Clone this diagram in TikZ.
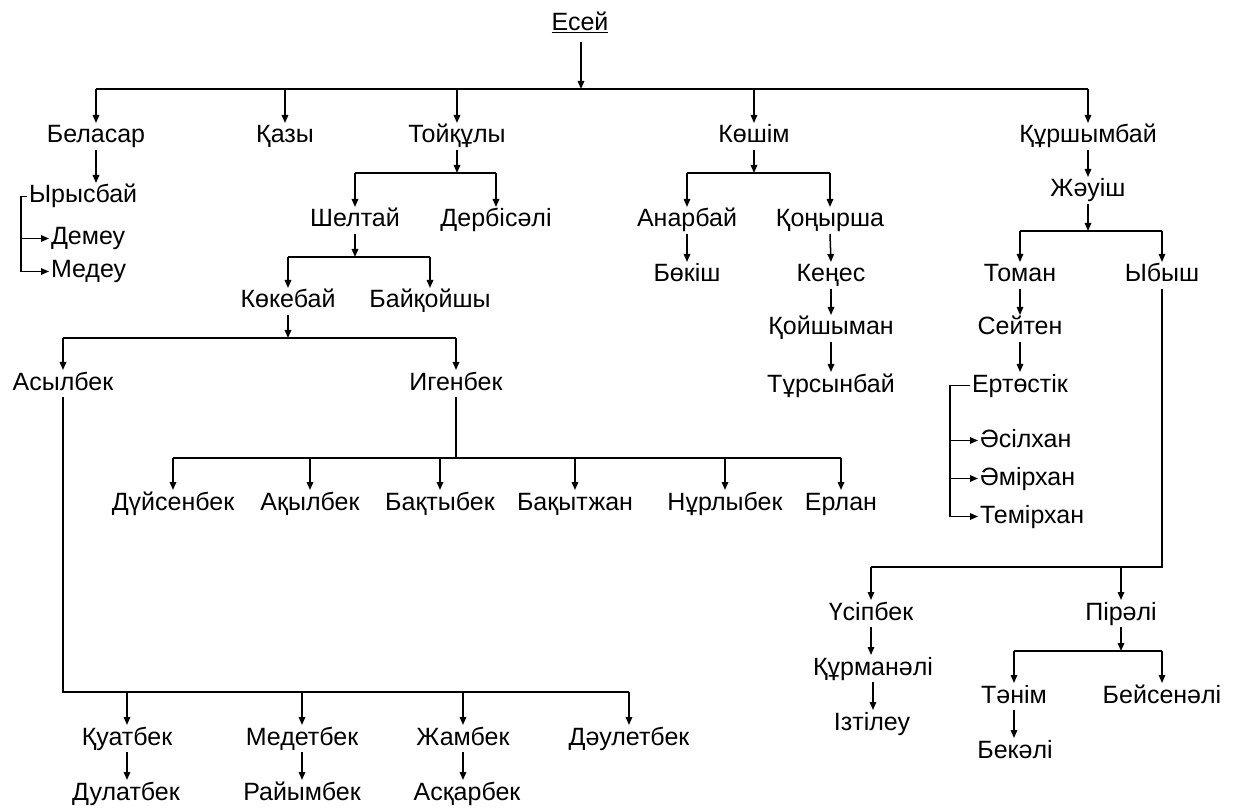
\documentclass[tikz,border=0pt]{standalone}
\usepackage{fontspec}
\setmainfont{Liberation Sans}
\usetikzlibrary{arrows.meta,calc}
\tikzset{
  nm/.style={inner sep=2pt, outer sep=0pt, text height=18pt, text depth=5pt, anchor=base, font=\fontsize{25}{30}\selectfont},
  nw/.style={nm, anchor=base west},
  ln/.style={line width=1.5pt},
  ar/.style={ln, -{Triangle[length=8pt,width=6.5pt]}},
}
\begin{document}
\begin{tikzpicture}[x=1pt,y=-1pt]
\useasboundingbox (0,0) rectangle (1240,810);
% nodes
\node[nm] (esei) at (580,31) {\underline{Есей}};
\node[nm] (bel) at (96,143) {Беласар};
\node[nm] (kaz) at (285,143) {Қазы};
\node[nm] (toi) at (457,143) {Тойқұлы};
\node[nm] (kos) at (754,143) {Көшім};
\node[nm] (kur) at (1088,143) {Құршымбай};
\node[nw] (ysb) at (27,203) {Ырысбай};
\node[nw] (dem) at (49,245) {Демеу};
\node[nw] (med) at (49,278) {Медеу};
\node[nm] (shel) at (355,227) {Шелтай};
\node[nm] (derb) at (496,227) {Дербісәлі};
\node[nm] (anar) at (687,227) {Анарбай};
\node[nm] (kon) at (830,227) {Қоңырша};
\node[nm] (zhau) at (1088,197) {Жәуіш};
\node[nm] (bok) at (687,282) {Бөкіш};
\node[nm] (ken) at (831,282) {Кеңес};
\node[nm] (toman) at (1020,282) {Томан};
\node[nm] (ybysh) at (1162,282) {Ыбыш};
\node[nm] (kok) at (288,308) {Көкебай};
\node[nm] (baik) at (430,308) {Байқойшы};
\node[nm] (koish) at (831,335) {Қойшыман};
\node[nm] (seit) at (1020,335) {Сейтен};
\node[nm] (asyl) at (63,390) {Асылбек};
\node[nm] (igen) at (456,390) {Игенбек};
\node[nm] (turs) at (831,392) {Тұрсынбай};
\node[nw] (ert) at (970,392) {Ертөстік};
\node[nw] (asil) at (978,447) {Әсілхан};
\node[nw] (amir) at (978,485) {Әмірхан};
\node[nw] (temir) at (978,523) {Темірхан};
\node[nm] (duis) at (173,510) {Дүйсенбек};
\node[nm] (akyl) at (310,510) {Ақылбек};
\node[nm] (bakty) at (440,510) {Бақтыбек};
\node[nm] (bakyt) at (575,510) {Бақытжан};
\node[nm] (nurly) at (725,510) {Нұрлыбек};
\node[nm] (erlan) at (841,510) {Ерлан};
\node[nm] (usip) at (871,620) {Үсіпбек};
\node[nm] (pir) at (1121,620) {Пірәлі};
\node[nm] (kurm) at (873,675) {Құрманәлі};
\node[nm] (izt) at (872,730) {Ізтілеу};
\node[nm] (tanim) at (1014,703) {Тәнім};
\node[nm] (beis) at (1162,703) {Бейсенәлі};
\node[nm] (bekali) at (1015,758) {Бекәлі};
\node[nm] (kuat) at (127,745) {Қуатбек};
\node[nm] (medet) at (302,745) {Медетбек};
\node[nm] (zham) at (463,745) {Жамбек};
\node[nm] (daul) at (629,745) {Дәулетбек};
\node[nm] (dulat) at (126,800) {Дулатбек};
\node[nm] (raiym) at (302,800) {Райымбек};
\node[nm] (askar) at (467,800) {Асқарбек};
% bar coordinates
\coordinate (b0) at (581,89);
\coordinate (b1) at (0,173);
\coordinate (b2) at (0,257);
\coordinate (b3) at (0,338);
\coordinate (b4) at (0,458);
\coordinate (b5) at (0,692);
\coordinate (b6) at (0,173);
\coordinate (b7) at (0,231);
\coordinate (b8) at (0,567);
\coordinate (b9) at (0,651);
\coordinate (yc) at (21,0);
\coordinate (ec) at (950,0);
% Есей
\draw[ar, shorten <=4pt] (esei.south -| b0) -- (b0);
\draw[ln] (bel.north |- b0) -- (kur.north |- b0);
\foreach \c in {bel,kaz,toi,kos,kur} \draw[ar] (\c.north |- b0) -- (\c.north);
% Беласар
\draw[ar] (bel.south) -- (bel.south |- ysb.north);
\draw[ar] (ysb.west) -- (ysb.west -| yc) -- (med.west -| yc) -- (med.west);
\draw[ar] (dem.west -| yc) -- (dem.west);
% Тойқұлы
\draw[ar] (toi.south) -- (toi.south |- b1);
\draw[ln] (shel.north |- b1) -- (derb.north |- b1);
\foreach \c in {shel,derb} \draw[ar] (\c.north |- b1) -- (\c.north);
% Шелтай
\draw[ar] (shel.south) -- (shel.south |- b2);
\draw[ln] (kok.north |- b2) -- (baik.north |- b2);
\foreach \c in {kok,baik} \draw[ar] (\c.north |- b2) -- (\c.north);
% Көкебай
\draw[ar] (kok.south) -- (kok.south |- b3);
\draw[ln] (asyl.north |- b3) -- (igen.north |- b3);
\foreach \c in {asyl,igen} \draw[ar] (\c.north |- b3) -- (\c.north);
% Игенбек
\draw[ln] (igen.south) -- (igen.south |- b4);
\draw[ln] (duis.north |- b4) -- (erlan.north |- b4);
\foreach \c in {duis,akyl,bakty,bakyt,nurly,erlan} \draw[ar] (\c.north |- b4) -- (\c.north);
% Асылбек
\draw[ln] (asyl.south) -- (asyl.south |- b5) -- (daul.north |- b5);
\foreach \c in {kuat,medet,zham,daul} \draw[ar] (\c.north |- b5) -- (\c.north);
\draw[ar] (kuat.south) -- (kuat.south |- dulat.north);
\draw[ar] (medet.south) -- (medet.south |- raiym.north);
\draw[ar] (zham.south) -- (zham.south |- askar.north);
% Көшім
\draw[ar] (kos.south) -- (kos.south |- b6);
\draw[ln] (anar.north |- b6) -- (kon.north |- b6);
\foreach \c in {anar,kon} \draw[ar] (\c.north |- b6) -- (\c.north);
\draw[ar] (anar.south) -- (bok.north);
\draw[ar] (kon.south) -- (ken.north);
\draw[ar] (ken.south) -- (koish.north);
\draw[ar] (koish.south) -- (turs.north);
% Құршымбай
\draw[ar] (kur.south) -- (zhau.north);
\draw[ar] (zhau.south) -- (zhau.south |- b7);
\draw[ln] (toman.north |- b7) -- (ybysh.north |- b7);
\foreach \c in {toman,ybysh} \draw[ar] (\c.north |- b7) -- (\c.north);
\draw[ar] (toman.south) -- (seit.north);
\draw[ar] (seit.south) -- (seit.south |- ert.north);
\draw[ar] (ert.west) -- (ert.west -| ec) -- (temir.west -| ec) -- (temir.west);
\draw[ar] (asil.west -| ec) -- (asil.west);
\draw[ar] (amir.west -| ec) -- (amir.west);
% Ыбыш
\draw[ln] (ybysh.south) -- (ybysh.south |- b8) -- (usip.north |- b8);
\foreach \c in {usip,pir} \draw[ar] (\c.north |- b8) -- (\c.north);
\draw[ar] (usip.south) -- (usip.south |- kurm.north);
\draw[ar] (kurm.south) -- (kurm.south |- izt.north);
% Пірәлі
\draw[ar] (pir.south) -- (pir.south |- b9);
\draw[ln] (tanim.north |- b9) -- (beis.north |- b9);
\foreach \c in {tanim,beis} \draw[ar] (\c.north |- b9) -- (\c.north);
\draw[ar] (tanim.south) -- (tanim.south |- bekali.north);
\end{tikzpicture}
\end{document}
